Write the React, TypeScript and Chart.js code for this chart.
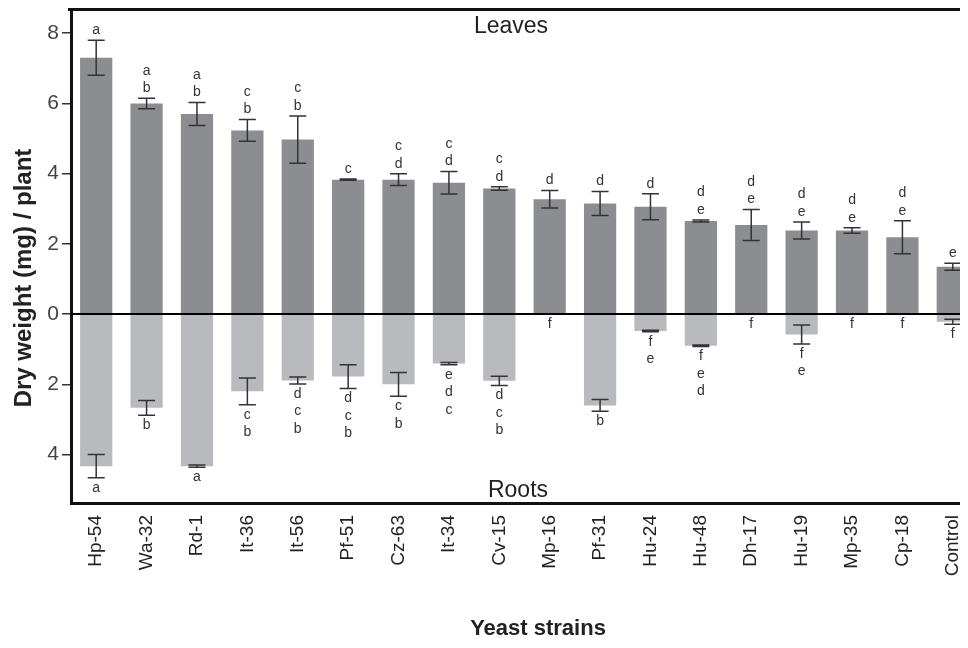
import React, { useEffect, useRef } from "react";
import { Chart, registerables } from "chart.js";

Chart.register(...registerables);

const categories = ["Hp-54", "Wa-32", "Rd-1", "It-36", "It-56", "Pf-51", "Cz-63", "It-34", "Cv-15", "Mp-16", "Pf-31", "Hu-24", "Hu-48", "Dh-17", "Hu-19", "Mp-35", "Cp-18", "Control"];
const leaves = [7.3, 6.0, 5.7, 5.23, 4.97, 3.83, 3.83, 3.74, 3.58, 3.27, 3.15, 3.06, 2.65, 2.54, 2.38, 2.38, 2.19, 1.35];
const leavesErr = [0.5, 0.15, 0.33, 0.31, 0.67, 0.02, 0.17, 0.32, 0.05, 0.25, 0.34, 0.37, 0.03, 0.44, 0.24, 0.08, 0.47, 0.1];
const roots = [4.33, 2.67, 4.33, 2.2, 1.89, 1.78, 2.0, 1.41, 1.9, 0, 2.6, 0.48, 0.9, 0, 0.58, 0, 0, 0.22];
const rootsErr = [0.33, 0.21, 0.03, 0.38, 0.1, 0.34, 0.34, 0.03, 0.13, 0, 0.17, 0.02, 0.02, 0, 0.27, 0, 0, 0.07];
const leafLetters = ["a", "ab", "ab", "cb", "cb", "c", "cd", "cd", "cd", "d", "d", "d", "de", "de", "de", "de", "de", "e"];
const rootLetters = ["a", "b", "a", "cb", "dcb", "dcb", "cb", "edc", "dcb", "f", "b", "fe", "fed", "f", "fe", "f", "f", "f"];
const yTicks = [-4, -2, 0, 2, 4, 6, 8];

const FONT = "'Liberation Sans', Arial, sans-serif";

const overlay = {
  id: "overlay",
  afterDatasetsDraw(chart: any) {
    const { ctx, chartArea, scales } = chart;
    const x = scales.x;
    const y = scales.y;
    ctx.save();
    // zero line
    const y0 = y.getPixelForValue(0);
    ctx.strokeStyle = "#000";
    ctx.lineWidth = 2;
    ctx.beginPath();
    ctx.moveTo(chartArea.left, y0);
    ctx.lineTo(chartArea.right, y0);
    ctx.stroke();

    // frame top and right
    ctx.lineWidth = 3;
    ctx.strokeStyle = "#111";
    ctx.beginPath();
    ctx.moveTo(chartArea.left - 3, chartArea.top + 0.5);
    ctx.lineTo(chartArea.right, chartArea.top + 0.5);
    ctx.lineTo(chartArea.right, chartArea.bottom);
    ctx.stroke();

    const cap = 8.5;
    ctx.strokeStyle = "#333";
    ctx.lineWidth = 1.5;
    ctx.fillStyle = "#333";
    ctx.font = `14px ${FONT}`;
    ctx.textAlign = "center";
    ctx.textBaseline = "middle";
    const drawErr = (cx: number, a: number, b: number) => {
      ctx.beginPath();
      ctx.moveTo(cx, a);
      ctx.lineTo(cx, b);
      ctx.moveTo(cx - cap, a);
      ctx.lineTo(cx + cap, a);
      ctx.moveTo(cx - cap, b);
      ctx.lineTo(cx + cap, b);
      ctx.stroke();
    };
    for (let i = 0; i < categories.length; i++) {
      const cx = x.getPixelForValue(i);
      // leaves
      const lt = y.getPixelForValue(leaves[i] + leavesErr[i]);
      const lb = y.getPixelForValue(leaves[i] - leavesErr[i]);
      if (leavesErr[i] > 0) drawErr(cx, lt, lb);
      const ll = leafLetters[i];
      let ly = lt - 10;
      for (let k = ll.length - 1; k >= 0; k--) {
        ctx.fillText(ll[k], cx, ly);
        ly -= 17.5;
      }
      // roots
      const rt = y.getPixelForValue(-(roots[i] - rootsErr[i]));
      const rb = y.getPixelForValue(-(roots[i] + rootsErr[i]));
      if (rootsErr[i] > 0) drawErr(cx, rt, rb);
      const rl = rootLetters[i];
      let ry = rb + 10;
      for (let k = 0; k < rl.length; k++) {
        ctx.fillText(rl[k], cx, ry);
        ry += 17.5;
      }
    }

    // panel labels
    ctx.fillStyle = "#222";
    ctx.textBaseline = "alphabetic";
    ctx.font = `23px ${FONT}`;
    ctx.fillText("Leaves", chartArea.left + 440, chartArea.top + 24);
    ctx.fillText("Roots", chartArea.left + 447, chartArea.bottom - 6);

    // axis titles
    ctx.font = `bold 22px ${FONT}`;
    ctx.textBaseline = "middle";
    ctx.fillText("Yeast strains", chartArea.left + 467, 621);
    ctx.save();
    ctx.translate(16, 270);
    ctx.rotate(-Math.PI / 2);
    ctx.font = `bold 24px ${FONT}`;
    ctx.fillText("Dry weight (mg) / plant", 0, 0);
    ctx.restore();
    ctx.restore();
  },
};

export default function App() {
  const ref = useRef<HTMLCanvasElement | null>(null);
  useEffect(() => {
    if (!ref.current) return;
    const chart = new Chart(ref.current, {
      type: "bar",
      data: {
        labels: categories,
        datasets: [
          { label: "Leaves", data: leaves, backgroundColor: "#8b8d90", borderWidth: 0 },
          { label: "Roots", data: roots.map((v) => -v), backgroundColor: "#b9babd", borderWidth: 0 },
        ],
      },
      options: {
        responsive: false,
        animation: false,
        devicePixelRatio: 1,
        layout: { padding: { top: 1, right: 10, left: 0, bottom: 0 } },
        plugins: { legend: { display: false }, tooltip: { enabled: false } },
        datasets: { bar: { barPercentage: 0.8, categoryPercentage: 0.8 } },
        scales: {
          x: {
            stacked: true,
            grid: { display: true, drawOnChartArea: false, drawTicks: false },
            border: { display: true, color: "#111", width: 3 },
            ticks: {
              autoSkip: false,
              minRotation: 90,
              maxRotation: 90,
              padding: 12,
              color: "#222",
              font: { family: FONT, size: 19 },
            },
            afterFit: (s: any) => {
              s.height = 145;
              s.paddingLeft = 0;
              s.paddingRight = 0;
            },
          },
          y: {
            stacked: true,
            min: -5.38,
            max: 8.69,
            grid: { display: true, drawOnChartArea: false, drawTicks: true, tickLength: 9, color: "#333", lineWidth: 1.5 },
            border: { display: true, color: "#111", width: 3 },
            ticks: {
              padding: 3,
              color: "#444",
              font: { family: FONT, size: 21 },
              callback: (v: any) => String(Math.abs(Number(v))),
            },
            afterBuildTicks: (s: any) => {
              s.ticks = yTicks.map((v) => ({ value: v }));
            },
            afterFit: (s: any) => {
              s.width = 63;
              s.paddingTop = 0;
              s.paddingBottom = 0;
            },
          },
        },
      },
      plugins: [overlay],
    });
    return () => chart.destroy();
  }, []);
  return (
    <div style={{ width: 960, height: 640, overflow: "hidden" }}>
      <canvas ref={ref} width={980} height={640} style={{ display: "block" }} />
    </div>
  );
}
